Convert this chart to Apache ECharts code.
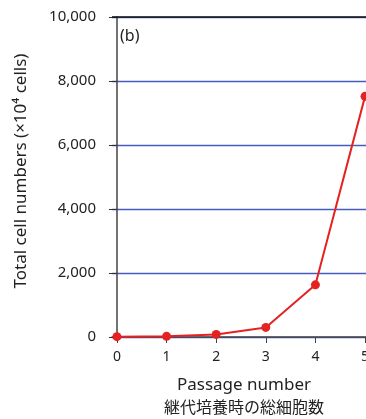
<!DOCTYPE html>
<html><head><meta charset="utf-8">
<script src="https://cdn.jsdelivr.net/npm/echarts@6/dist/echarts.min.js"></script>
<style>html,body{margin:0;padding:0;background:#fff}#c{width:366px;height:419px}</style>
</head><body><div id="c"></div>
<script>
const passages = [0, 1, 2, 3, 4, 5];
const totalCells = [10, 20, 80, 300, 1630, 7520];
const yTicks = [0, 2000, 4000, 6000, 8000, 10000];
const xTitle = 'Passage number';
const xTitleJa = '継代培養時の総細胞数';
const yTitle = 'Total cell numbers (×10⁴ cells)';
const panelLabel = '(b)';

const font = '"Noto Sans", "Noto Sans CJK JP", sans-serif';
const chart = echarts.init(document.getElementById('c'), null, {renderer: 'canvas'});
chart.setOption({
  animation: false,
  grid: {left: 112, top: 17, right: -4, bottom: 82, outerBoundsMode: 'none', containLabel: false},
  xAxis: {
    type: 'value', min: -0.1, max: 5.1, interval: 1,
    axisLine: {show: true, onZero: false, lineStyle: {color: '#444', width: 1.5}},
    axisTick: {show: true, length: 6, lineStyle: {color: '#444'},
      customValues: passages},
    axisLabel: {color: '#222', fontSize: 14, fontFamily: font, margin: 13,
      customValues: passages},
    splitLine: {show: false}
  },
  yAxis: {
    type: 'value', min: yTicks[0], max: yTicks[yTicks.length - 1], interval: 2000,
    axisLine: {show: true, lineStyle: {color: '#444', width: 1.5}},
    axisTick: {show: true, length: 8, lineStyle: {color: '#333'}},
    axisLabel: {color: '#222', fontSize: 15, fontFamily: font, margin: 16,
      formatter: v => v.toLocaleString('en-US')},
    splitLine: {show: true, lineStyle: {color: '#4a5bc0', width: 1.3}}
  },
  series: [{
    type: 'line',
    data: passages.map((p, i) => [p, totalCells[i]]),
    symbol: 'circle', symbolSize: 9,
    lineStyle: {color: '#e52222', width: 2},
    itemStyle: {color: '#e52222'},
    clip: false,
    z: 5,
    markLine: {
      silent: true, symbol: 'none', label: {show: false},
      lineStyle: {color: '#111', type: 'solid', width: 1.5},
      data: [{yAxis: yTicks[yTicks.length - 1]}]
    }
  }],
  graphic: [
    {type: 'text', left: 120, top: 28, style: {text: panelLabel, font: '16px ' + font, fill: '#222'}},
    {type: 'text', x: 244, y: 385, style: {text: xTitle, font: '17px ' + font, fill: '#222', align: 'center', verticalAlign: 'middle'}},
    {type: 'text', x: 244, y: 408, style: {text: xTitleJa, font: '16px ' + font, fill: '#222', align: 'center', verticalAlign: 'middle'}},
    {type: 'text', x: 21, y: 171, rotation: Math.PI / 2, style: {text: yTitle, font: '17px ' + font, fill: '#222', align: 'center', verticalAlign: 'middle'}}
  ]
});
</script></body></html>
